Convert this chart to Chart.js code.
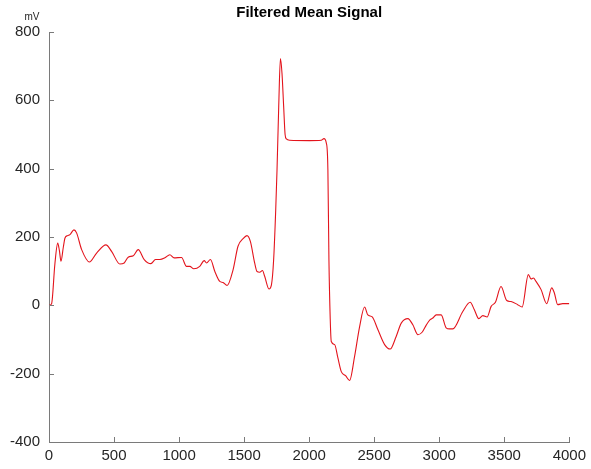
<!DOCTYPE html>
<html>
<head>
<meta charset="utf-8">
<script src="https://cdn.jsdelivr.net/npm/chart.js@4/dist/chart.umd.min.js"></script>
<style>
  html, body { margin: 0; padding: 0; background: #fff; }
  #wrap { width: 591px; height: 469px; }
</style>
</head>
<body>
<div id="wrap"><canvas id="signalChart"></canvas></div>
<script>
// Data (sample index vs. mV)
const chartTitle = 'Filtered Mean Signal';
const unitLabel = 'mV';
const xTicks = [0, 500, 1000, 1500, 2000, 2500, 3000, 3500, 4000];
const yTicks = [-400, -200, 0, 200, 400, 600, 800];

const sampleX = [
  0, 20, 45, 67, 80, 92, 110, 123, 143, 161, 192, 212, 251, 310, 366, 438, 481, 545, 578, 609,
  648, 686, 732, 783, 819, 852, 891, 929, 962, 1019, 1057, 1083, 1113, 1159, 1193, 1211, 1241, 1275, 1313, 1338,
  1369, 1415, 1453, 1492, 1522, 1548, 1581, 1599, 1620, 1641, 1658, 1691, 1710, 1727, 1743, 1753, 1766, 1779, 1791, 1804,
  1815, 1825, 1850, 2003, 2093, 2114, 2132, 2144, 2152, 2162, 2170, 2196, 2221, 2247, 2280, 2311, 2349, 2388, 2426, 2451,
  2485, 2528, 2580, 2623, 2669, 2708, 2759, 2797, 2836, 2870, 2900, 2930, 2951, 2977, 3015, 3053, 3079, 3104, 3181, 3238,
  3270, 3304, 3335, 3368, 3399, 3432, 3475, 3519, 3552, 3603, 3637, 3685, 3706, 3724, 3744, 3783, 3826, 3865, 3885, 3911,
  3949, 4000
];
const meanSignal = [
  0, 5, 120, 182, 160, 129, 170, 197, 204, 207, 221, 212, 163, 127, 153, 177, 158, 121, 124, 141,
  145, 163, 134, 122, 134, 134, 139, 148, 139, 140, 114, 114, 107, 114, 131, 124, 134, 99, 70, 67,
  58, 104, 173, 195, 204, 187, 124, 99, 97, 102, 85, 48, 60, 134, 280, 397, 582, 722, 680, 582,
  500, 487, 483, 482, 483, 488, 475, 397, 134, -40, -106, -115, -154, -194, -206, -220, -150, -62, -5, -28,
  -34, -71, -115, -128, -91, -52, -39, -57, -86, -78, -58, -42, -37, -28, -28, -66, -69, -69, -18, 9,
  -13, -39, -30, -34, -3, 9, 55, 14, 11, 2, -5, 90, 77, 80, 70, 46, 5, 51, 36, 2,
  5, 5
];

const axisColor = '#7a7a7a';
const labelColor = '#262626';
const fontFamily = '"Liberation Sans", Arial, sans-serif';

// Draws title, unit and MATLAB-style inward tick marks
const decorations = {
  id: 'decorations',
  afterDraw(chart) {
    const ctx = chart.ctx;
    const area = chart.chartArea;
    const xs = chart.scales.x;
    const ys = chart.scales.y;
    ctx.save();
    ctx.strokeStyle = axisColor;
    ctx.lineWidth = 1;
    ctx.beginPath();
    xTicks.forEach(v => {
      const px = Math.round(xs.getPixelForValue(v)) + 0.5;
      ctx.moveTo(px, area.bottom);
      ctx.lineTo(px, area.bottom - 5);
    });
    yTicks.forEach(v => {
      const py = Math.round(ys.getPixelForValue(v)) + 0.5;
      ctx.moveTo(area.left, py);
      ctx.lineTo(area.left + 5, py);
    });
    ctx.stroke();

    ctx.fillStyle = '#000';
    ctx.font = 'bold 15px ' + fontFamily;
    ctx.textAlign = 'center';
    ctx.textBaseline = 'middle';
    ctx.fillText(chartTitle, (area.left + area.right) / 2, 13);

    ctx.fillStyle = labelColor;
    ctx.font = '10px ' + fontFamily;
    ctx.fillText(unitLabel, 32, 17);
    ctx.restore();
  }
};

new Chart(document.getElementById('signalChart'), {
  type: 'line',
  data: {
    datasets: [{
      data: sampleX.map((x, i) => ({ x: x, y: meanSignal[i] })),
      borderColor: '#e3141c',
      borderWidth: 1.1,
      pointRadius: 0,
      fill: false,
      cubicInterpolationMode: 'monotone'
    }]
  },
  options: {
    responsive: true,
    maintainAspectRatio: false,
    animation: false,
    layout: { padding: { left: 0, right: 21, top: 32, bottom: 0 } },
    plugins: { legend: { display: false }, tooltip: { enabled: false }, title: { display: false } },
    scales: {
      x: {
        type: 'linear',
        min: 0,
        max: 4000,
        afterBuildTicks: s => { s.ticks = xTicks.map(v => ({ value: v })); },
        afterFit: s => { s.height = 27; },
        grid: { display: false, drawTicks: false },
        border: { display: true, color: axisColor, width: 1 },
        ticks: { color: labelColor, padding: 5, maxRotation: 0, autoSkip: false,
                 callback: v => String(v),
                 font: { family: fontFamily, size: 15 } }
      },
      y: {
        type: 'linear',
        min: -400,
        max: 800,
        afterBuildTicks: s => { s.ticks = yTicks.map(v => ({ value: v })); },
        afterFit: s => { s.width = 49; },
        grid: { display: false, drawTicks: false },
        border: { display: true, color: axisColor, width: 1 },
        ticks: { color: labelColor, padding: 9, autoSkip: false,
                 callback: v => String(v),
                 font: { family: fontFamily, size: 15 } }
      }
    }
  },
  plugins: [decorations]
});
</script>
</body>
</html>
